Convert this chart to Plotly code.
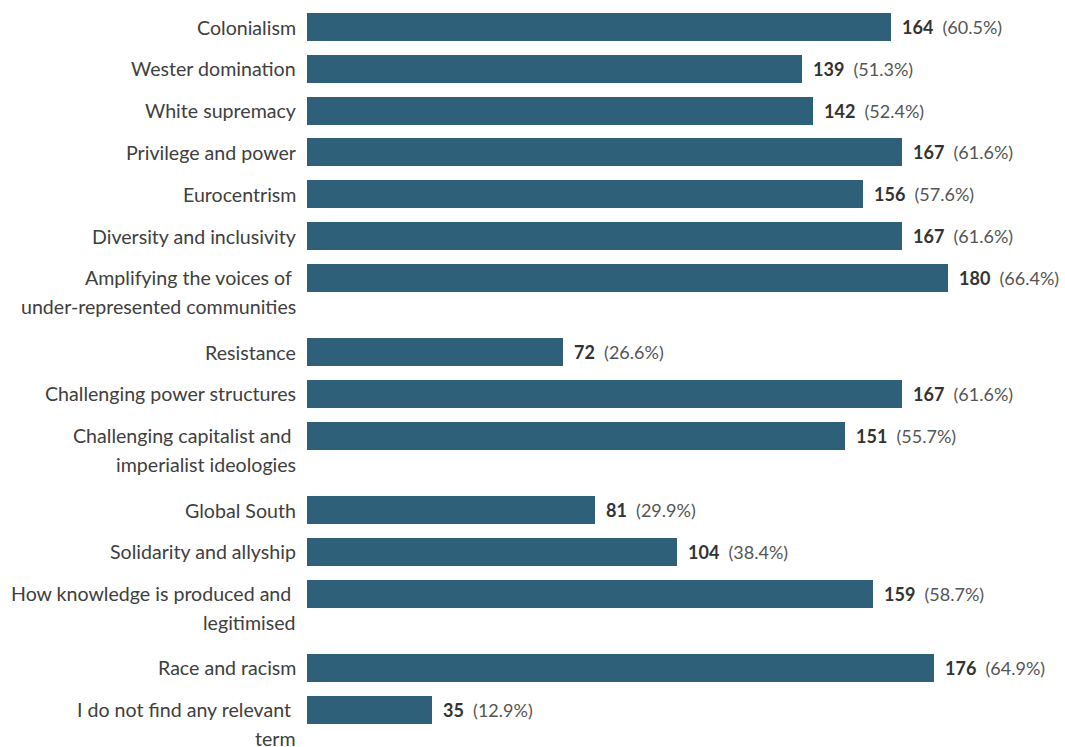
import plotly.graph_objects as go

categories = [
    "Colonialism",
    "Wester domination",
    "White supremacy",
    "Privilege and power",
    "Eurocentrism",
    "Diversity and inclusivity",
    "Amplifying the voices of <br>under-represented communities",
    "Resistance",
    "Challenging power structures",
    "Challenging capitalist and <br>imperialist ideologies",
    "Global South",
    "Solidarity and allyship",
    "How knowledge is produced and <br>legitimised",
    "Race and racism",
    "I do not find any relevant <br>term",
]
counts = [164, 139, 142, 167, 156, 167, 180, 72, 167, 151, 81, 104, 159, 176, 35]
percents = ["60.5%", "51.3%", "52.4%", "61.6%", "57.6%", "61.6%", "66.4%", "26.6%",
            "61.6%", "55.7%", "29.9%", "38.4%", "58.7%", "64.9%", "12.9%"]

W, H = 1065, 747
ML = 307
ROW = 41.8      # px per single-line row
LINE = 29       # px per extra label line
EXTRA = 32.5    # extra px for each additional label line
TOP = 27        # first bar centre, px
BAR_H = 28
BAR_COLOR = "#2e6079"
FONT = "Lato"

# y positions (pixel-like units, reversed axis) derived from label line counts
ypos = []
cur = TOP
for lab in categories:
    ypos.append(cur)
    nlines = lab.count("<br>") + 1
    cur += ROW + (nlines - 1) * EXTRA

fig = go.Figure()
fig.add_trace(go.Bar(
    x=counts, y=ypos, orientation="h", width=BAR_H,
    marker=dict(color=BAR_COLOR, line=dict(width=0)),
    hoverinfo="skip",
))

ann = []
for lab, yy, c, p in zip(categories, ypos, counts, percents):
    for i, line in enumerate(lab.split("<br>")):
        txt = line.rstrip() + ("&nbsp;" if line.endswith(" ") else "")
        ann.append(dict(
            x=0, y=yy + i * LINE, xref="x", yref="y", text=txt,
            xanchor="right", yanchor="middle", xshift=-9, showarrow=False,
            font=dict(family=FONT, size=19.6, color="#404040"),
        ))
    ann.append(dict(
        x=c, y=yy, xref="x", yref="y",
        text=f"<b>{c}</b>&nbsp;&nbsp;<span style='color:#555555'>({p})</span>",
        xanchor="left", yanchor="middle", xshift=9, showarrow=False,
        font=dict(family=FONT, size=18, color="#333333"),
    ))

px_per_unit = (948 - ML) / 180.0
fig.update_layout(
    width=W, height=H,
    margin=dict(l=ML, r=0, t=0, b=0),
    plot_bgcolor="white", paper_bgcolor="white",
    showlegend=False,
    xaxis=dict(range=[0, (W - ML) / px_per_unit], visible=False, fixedrange=True),
    yaxis=dict(range=[H, 0], visible=False, fixedrange=True),
    annotations=ann,
    bargap=0,
)
fig.write_html("out.html", config={"displayModeBar": False},
               post_script="document.body.style.margin='0';")
